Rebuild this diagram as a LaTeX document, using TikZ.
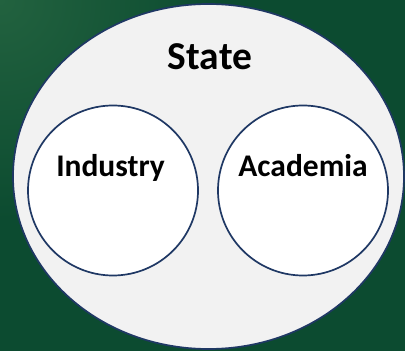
\documentclass[tikz,border=0pt]{standalone}
\usepackage{fontspec}
\setmainfont{Carlito}
\usepackage{tikz}
\usetikzlibrary{shapes.geometric}

\definecolor{bggreen}{HTML}{0C4B30}
\definecolor{bglight}{HTML}{22623F}
\definecolor{rimblue}{HTML}{1F3864}
\definecolor{stategray}{HTML}{F2F2F2}

\begin{document}
\begin{tikzpicture}[x=1pt,y=1pt,
  sector/.style={circle,draw=rimblue,line width=1.7pt,fill=white,minimum size=170pt,inner sep=0pt},
  sectorlabel/.style={anchor=base,font=\bfseries\fontsize{31.5}{35}\selectfont}]
  \useasboundingbox (0,0) rectangle (405,351);

  %background
  \fill[bggreen] (0,0) rectangle (405,351);
  \begin{scope}
    \clip (0,0) rectangle (405,351);
    \shade[inner color=bglight,outer color=bggreen] (0,351) circle (220);
  \end{scope}

  %state
  \node[ellipse,draw=rimblue,line width=1.7pt,fill=stategray,minimum width=391pt,minimum height=345pt,inner sep=0pt] (state) at (208.5,174.5) {};
  \node[anchor=base,font=\bfseries\fontsize{39.5}{44}\selectfont] (statetext) at (210,281) {State};

  %industry and academia
  \node[sector] (industry) at (113,160.5) {};
  \node[sector] (academia) at (303,160.5) {};
  \node[sectorlabel] (industrytext) at (110.5,174) {Industry};
  \node[sectorlabel] (academiatext) at (303,174) {Academia};
\end{tikzpicture}
\end{document}
